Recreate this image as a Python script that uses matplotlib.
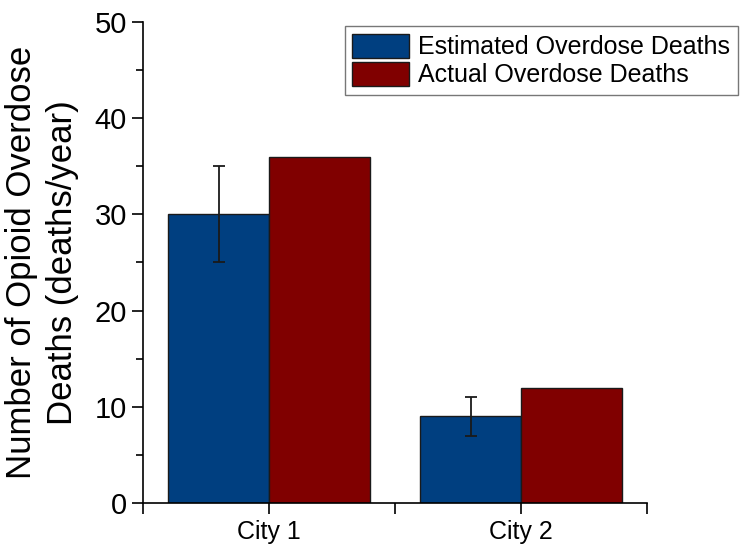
import matplotlib
matplotlib.use("Agg")
import matplotlib.pyplot as plt
import numpy as np
from matplotlib.ticker import MultipleLocator, FixedLocator

plt.rcParams['font.family'] = ['Liberation Sans', 'DejaVu Sans']

cities = ["City 1", "City 2"]
estimated = [30, 9]
estimated_err = [5, 2]
actual = [36, 12]

fig = plt.figure(figsize=(7.5, 5.5), dpi=100)
ax = fig.add_axes([0.1907, 0.0855, 0.672, 0.8745])

x = np.arange(1, len(cities) + 1)
w = 0.4
ax.bar(x - w/2, estimated, w, color="#003f80", edgecolor="#1a1a1a", linewidth=1.0,
       label="Estimated Overdose Deaths", zorder=2)
ax.bar(x + w/2, actual, w, color="#800000", edgecolor="#1a1a1a", linewidth=1.0,
       label="Actual Overdose Deaths", zorder=2)
ax.errorbar(x - w/2, estimated, yerr=estimated_err, fmt="none", ecolor="#1a1a1a",
            elinewidth=1.3, capsize=4.5, capthick=1.3, zorder=3)

ax.set_xlim(0.5, 2.5)
ax.set_ylim(0, 50)
ax.set_xticks(x)
ax.set_xticklabels(cities, fontsize=18)
ax.xaxis.set_minor_locator(FixedLocator([0.5, 1.5, 2.5]))
ax.yaxis.set_major_locator(MultipleLocator(10))
ax.yaxis.set_minor_locator(MultipleLocator(5))
ax.tick_params(axis='y', which='major', labelsize=21, length=8, width=1.2, direction='out')
ax.tick_params(axis='y', which='minor', length=5, width=1.2, direction='out')
ax.tick_params(axis='x', which='major', length=8, width=1.2, direction='out', pad=4)
ax.tick_params(axis='x', which='minor', length=8, width=1.2, direction='out')

for s in ['top', 'right']:
    ax.spines[s].set_visible(False)
for s in ['left', 'bottom']:
    ax.spines[s].set_linewidth(1.2)

ax.set_ylabel("Number of Opioid Overdose\nDeaths (deaths/year)", fontsize=25, linespacing=1.3)
ax.yaxis.set_label_coords(-0.127, 0.5)

handles, labels = ax.get_legend_handles_labels()
leg = fig.legend(handles, labels, loc="upper right", bbox_to_anchor=(738/750, 1 - 26/550),
                 fontsize=18, frameon=True, fancybox=False, edgecolor="#555555",
                 handlelength=2.25, handleheight=1.1, handletextpad=0.4, borderpad=0.3,
                 labelspacing=0.12, borderaxespad=0.0)
leg.get_frame().set_linewidth(1.0)

fig.savefig("out.png", dpi=100)
